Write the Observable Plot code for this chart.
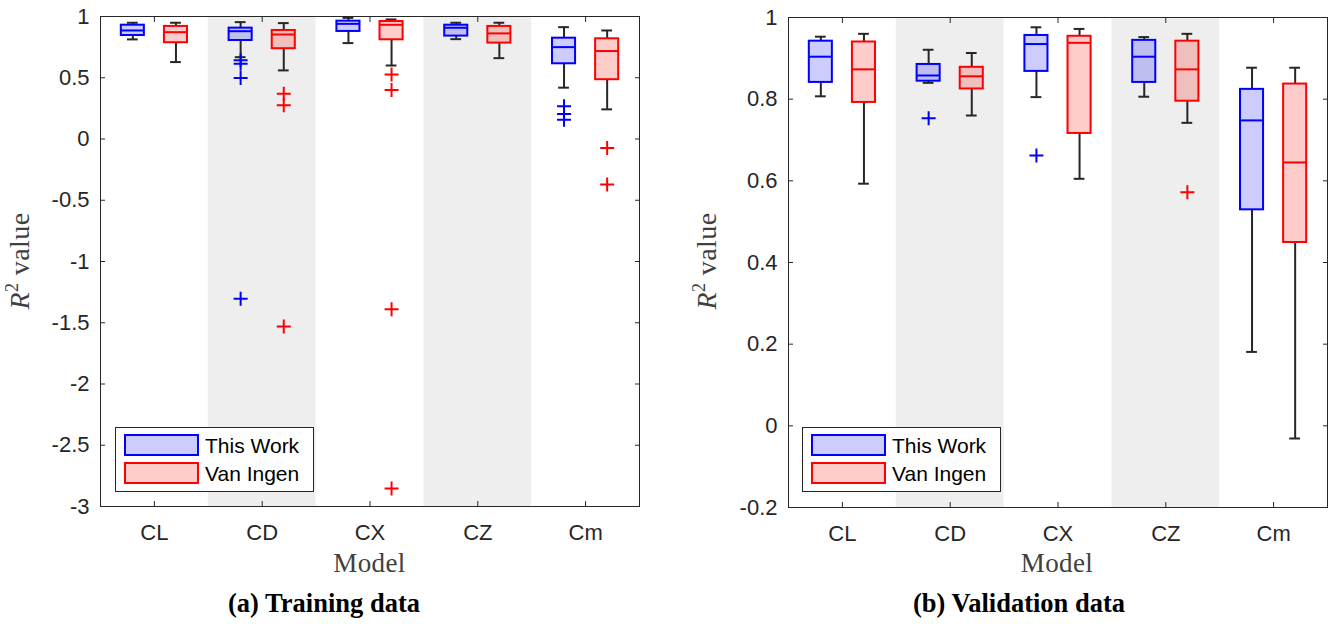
<!DOCTYPE html>
<html>
<head>
<meta charset="utf-8">
<script src="https://cdn.jsdelivr.net/npm/d3@7"></script>
<script src="https://cdn.jsdelivr.net/npm/@observablehq/plot@0.6"></script>
<style>
  body { margin: 0; background: #fff; }
  #fig { position: relative; width: 1328px; height: 624px; overflow: hidden; background: #fff; }
  #fig .panel { position: absolute; top: 0; }
  #overlay { position: absolute; left: 0; top: 0; pointer-events: none; }
</style>
</head>
<body>
<div id="fig"></div>
<script>
// Model categories along the x axis
const models = ["CL", "CD", "CX", "CZ", "Cm"];
const seriesNames = ["This Work", "Van Ingen"];
const seriesColors = ["#0000ff", "#ff0000"];

// Box statistics per model: [lower whisker, Q1, median, Q3, upper whisker]
const trainThisWork = [
  [0.813, 0.845, 0.886, 0.929, 0.949],
  [0.668, 0.804, 0.880, 0.905, 0.954],
  [0.783, 0.878, 0.940, 0.962, 0.989],
  [0.815, 0.840, 0.908, 0.929, 0.949],
  [0.419, 0.614, 0.750, 0.823, 0.913]
];
const trainVanIngen = [
  [0.628, 0.786, 0.872, 0.919, 0.949],
  [0.560, 0.737, 0.853, 0.886, 0.946],
  [0.600, 0.810, 0.932, 0.959, 0.976],
  [0.660, 0.783, 0.862, 0.919, 0.949],
  [0.242, 0.484, 0.718, 0.818, 0.886]
];
const validThisWork = [
  [0.807, 0.841, 0.904, 0.942, 0.953],
  [0.840, 0.844, 0.858, 0.885, 0.921],
  [0.805, 0.868, 0.935, 0.956, 0.976],
  [0.806, 0.841, 0.904, 0.944, 0.952],
  [0.181, 0.529, 0.748, 0.824, 0.877]
];
const validVanIngen = [
  [0.593, 0.792, 0.873, 0.940, 0.960],
  [0.760, 0.825, 0.856, 0.878, 0.913],
  [0.605, 0.716, 0.938, 0.954, 0.972],
  [0.742, 0.795, 0.873, 0.942, 0.960],
  [-0.031, 0.449, 0.645, 0.837, 0.877]
];

// Outliers per model
const trainThisWorkOutliers = [[], [0.642, 0.614, 0.497, -1.305], [], [], [0.267, 0.204, 0.158]];
const trainVanIngenOutliers = [[], [0.370, 0.275, -1.531], [0.527, 0.400, -1.390, -2.853], [], [-0.073, -0.371]];
const validThisWorkOutliers = [[], [0.753], [0.662], [], []];
const validVanIngenOutliers = [[], [], [], [0.572], []];

// Axis ticks
const trainTicks = [-3, -2.5, -2, -1.5, -1, -0.5, 0, 0.5, 1];
const validTicks = [-0.2, 0, 0.2, 0.4, 0.6, 0.8, 1];

// Layout constants (in x-scale units: one model per unit)
const dodge = {"This Work": -0.2, "Van Ingen": 0.2};
const halfBox = 0.107;
const halfCap = 0.05;
const ink = "#262626";

function boxRows(series, stats) {
  return stats.map(([lo, q1, med, q3, hi], i) => ({series, x: i + 1 + dodge[series], lo, q1, med, q3, hi}));
}
function outlierRows(series, lists) {
  return lists.flatMap((vals, i) => vals.map(v => ({series, x: i + 1 + dodge[series], v})));
}

// MATLAB-style "+" marker drawn with strokes
const plusSymbol = {
  draw(context, size) {
    const a = Math.sqrt(size / Math.PI);
    context.moveTo(-a, 0); context.lineTo(a, 0);
    context.moveTo(0, -a); context.lineTo(0, a);
  }
};

function panel({ours, theirs, oursOut, theirsOut, yDomain, yTicks, marginLeft, marginRight, marginTop, marginBottom}) {
  const rows = [...boxRows("This Work", ours), ...boxRows("Van Ingen", theirs)];
  const outs = [...outlierRows("This Work", oursOut), ...outlierRows("Van Ingen", theirsOut)];
  const shaded = models.map((m, i) => i + 1).filter(i => i % 2 === 0);
  const xTicks = models.map((m, i) => i + 1);
  return Plot.plot({
    width: 664,
    height: 580,
    marginLeft, marginRight, marginTop, marginBottom,
    x: {domain: [0.5, models.length + 0.5]},
    y: {domain: yDomain},
    color: {domain: seriesNames, range: seriesColors},
    style: {fontFamily: "'Liberation Sans', Arial, sans-serif", fontSize: "22px", color: ink, background: "transparent", overflow: "visible"},
    marks: [
      Plot.rect(shaded, {x1: d => d - 0.5, x2: d => d + 0.5, fill: "#eeeeee"}),
      // whiskers and caps
      Plot.ruleX(rows, {x: "x", y1: "q3", y2: "hi", stroke: ink, strokeWidth: 2}),
      Plot.ruleX(rows, {x: "x", y1: "q1", y2: "lo", stroke: ink, strokeWidth: 2}),
      Plot.ruleY(rows, {y: "hi", x1: d => d.x - halfCap, x2: d => d.x + halfCap, stroke: ink, strokeWidth: 2}),
      Plot.ruleY(rows, {y: "lo", x1: d => d.x - halfCap, x2: d => d.x + halfCap, stroke: ink, strokeWidth: 2}),
      // boxes and medians
      Plot.rect(rows, {x1: d => d.x - halfBox, x2: d => d.x + halfBox, y1: "q1", y2: "q3", fill: "series", fillOpacity: 0.2, stroke: "series", strokeWidth: 2}),
      Plot.ruleY(rows, {y: "med", x1: d => d.x - halfBox, x2: d => d.x + halfBox, stroke: "series", strokeWidth: 2}),
      // outliers
      Plot.dot(outs, {x: "x", y: "v", symbol: plusSymbol, r: 7, stroke: "series", fill: "none", strokeWidth: 2}),
      // frame with inward ticks on all four sides
      Plot.frame({stroke: ink}),
      Plot.axisX({ticks: xTicks, anchor: "bottom", tickSize: -5, fill: "none", label: null, stroke: ink}),
      Plot.axisX({ticks: xTicks, anchor: "top", tickSize: -5, fill: "none", label: null, stroke: ink}),
      Plot.axisY({ticks: yTicks, anchor: "left", tickSize: -5, fill: "none", label: null, stroke: ink}),
      Plot.axisY({ticks: yTicks, anchor: "right", tickSize: -5, fill: "none", label: null, stroke: ink}),
      // tick labels
      Plot.axisX({ticks: xTicks, anchor: "bottom", tickSize: 0, tickPadding: 18, tickFormat: d => models[d - 1], label: null, fill: ink}),
      Plot.axisY({ticks: yTicks, anchor: "left", tickSize: 0, tickPadding: 11, tickFormat: d => String(d), label: null, fill: ink})
    ]
  });
}

const fig = document.getElementById("fig");

const left = panel({
  ours: trainThisWork, theirs: trainVanIngen,
  oursOut: trainThisWorkOutliers, theirsOut: trainVanIngenOutliers,
  yDomain: [-3, 1], yTicks: trainTicks,
  marginLeft: 100, marginRight: 25, marginTop: 16, marginBottom: 74
});
left.classList.add("panel");
left.style.left = "0px";
fig.appendChild(left);

const right = panel({
  ours: validThisWork, theirs: validVanIngen,
  oursOut: validThisWorkOutliers, theirsOut: validVanIngenOutliers,
  yDomain: [-0.2, 1], yTicks: validTicks,
  marginLeft: 124, marginRight: 1, marginTop: 17, marginBottom: 73
});
right.classList.add("panel");
right.style.left = "664px";
fig.appendChild(right);

// Axis titles, captions and legends
const overlay = d3.select(fig).append("svg")
  .attr("id", "overlay").attr("width", 1328).attr("height", 624);

const panels = [
  {xCenter: 369.5, yLabelX: 29, caption: "(a) Training data", captionX: 324, legendX: 115},
  {xCenter: 1057, yLabelX: 716, caption: "(b) Validation data", captionX: 1019, legendX: 802}
];

for (const p of panels) {
  overlay.append("text")
    .attr("x", p.xCenter).attr("y", 572)
    .attr("text-anchor", "middle")
    .attr("font-family", "'Liberation Serif', 'DejaVu Serif', serif")
    .attr("font-size", 27).attr("letter-spacing", 0.4).attr("fill", "#404040")
    .text("Model");

  const yl = overlay.append("text")
    .attr("transform", `translate(${p.yLabelX},261) rotate(-90)`)
    .attr("text-anchor", "middle")
    .attr("font-family", "'Liberation Serif', 'DejaVu Serif', serif")
    .attr("font-size", 28).attr("letter-spacing", 0.4).attr("fill", "#404040");
  yl.append("tspan").attr("font-style", "italic").text("R");
  yl.append("tspan").attr("font-size", 18).attr("dy", -11).text("2");
  yl.append("tspan").attr("dy", 11).text(" value");

  overlay.append("text")
    .attr("x", p.captionX).attr("y", 612)
    .attr("text-anchor", "middle")
    .attr("font-family", "'Liberation Serif', 'Times New Roman', serif")
    .attr("font-size", 26.5).attr("font-weight", "bold").attr("fill", "#000")
    .text(p.caption);

  const lg = overlay.append("g").attr("transform", `translate(${p.legendX},427)`);
  lg.append("rect").attr("x", 0.5).attr("y", 0.5).attr("width", 198).attr("height", 64)
    .attr("fill", "#fff").attr("stroke", ink);
  seriesNames.forEach((name, i) => {
    const y = 8 + i * 28;
    lg.append("rect").attr("x", 10).attr("y", y).attr("width", 73).attr("height", 20)
      .attr("fill", seriesColors[i]).attr("fill-opacity", 0.2)
      .attr("stroke", seriesColors[i]).attr("stroke-width", 2);
    lg.append("text").attr("x", 90).attr("y", y + 18)
      .attr("font-family", "'Liberation Sans', Arial, sans-serif")
      .attr("font-size", 21).attr("fill", "#000")
      .text(name);
  });
}
</script>
</body>
</html>
